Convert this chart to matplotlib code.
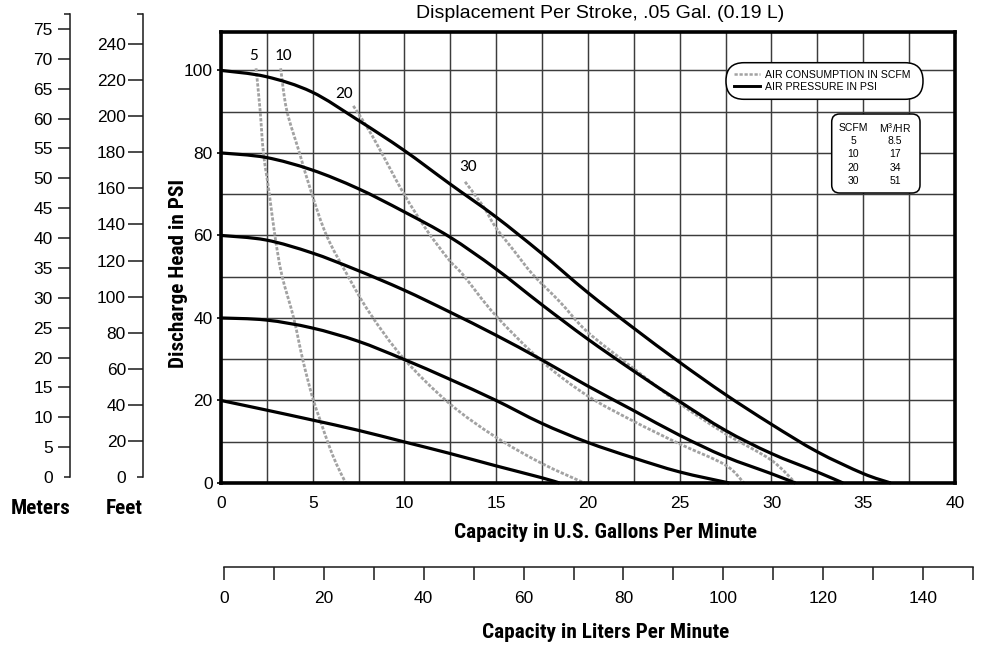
import numpy as np
import matplotlib
matplotlib.use("Agg")
import matplotlib.pyplot as plt
from matplotlib import font_manager
from matplotlib.patches import FancyBboxPatch, PathPatch
from matplotlib.path import Path
from matplotlib.transforms import Affine2D
from matplotlib.lines import Line2D
from matplotlib.ticker import FixedLocator, FixedFormatter

# ---------------- data ----------------
# Air pressure curves: capacity (US GPM) vs discharge head (PSI)
psi100_gpm = [0, 2.45, 4.94, 7.45, 9.95, 12.44, 14.95, 17.46, 19.95, 22.47, 24.98, 27.47, 29.97, 32.48, 34.99, 36.5]
psi100_head = [100, 98.5, 94.8, 88.0, 80.7, 72.6, 64.6, 55.7, 46.3, 37.6, 29.3, 21.5, 14.3, 7.6, 2.3, 0]

psi80_gpm = [0, 2.45, 4.94, 7.45, 9.95, 12.44, 14.95, 17.46, 19.95, 22.47, 24.98, 27.47, 29.97, 32.48, 33.9]
psi80_head = [80, 78.9, 75.9, 71.4, 65.8, 59.7, 52.0, 43.3, 35.0, 27.2, 19.8, 12.8, 7.2, 2.7, 0]

psi60_gpm = [0, 2.45, 4.94, 7.3, 9.95, 12.44, 14.95, 17.46, 19.95, 22.47, 24.98, 27.47, 29.97, 31.3]
psi60_head = [60, 58.9, 55.8, 51.8, 46.8, 41.5, 35.9, 29.9, 23.6, 17.6, 11.6, 6.4, 2.3, 0]

psi40_gpm = [0, 2.45, 4.94, 7.45, 9.95, 12.44, 14.95, 17.46, 19.95, 22.47, 24.98, 27.7]
psi40_head = [40, 39.5, 37.6, 34.4, 30.0, 25.2, 20.1, 14.5, 9.9, 6.1, 2.7, 0]

psi20_gpm = [0, 2.45, 4.94, 7.45, 9.95, 12.44, 14.95, 17.46, 18.45]
psi20_head = [20, 17.7, 15.3, 12.8, 10.0, 7.2, 4.2, 1.3, 0]

# Air consumption curves (SCFM)
scfm5_gpm = [1.91, 2.13, 2.31, 2.63, 2.94, 3.31, 3.96, 4.45, 4.97, 5.40, 5.85, 6.3, 6.8]
scfm5_head = [100.5, 90.4, 80.1, 70.2, 59.9, 50.5, 40.0, 30.0, 21.0, 15.3, 9.5, 4.5, 0]

scfm10_gpm = [3.25, 3.58, 4.27, 4.94, 5.76, 6.9, 8.12, 9.95, 12.44, 14.95, 17.46, 19.8]
scfm10_head = [100.5, 90.4, 80.1, 70.2, 59.9, 50.3, 41.1, 30.2, 19.3, 11.2, 4.8, 0]

scfm20_gpm = [7.21, 7.94, 8.67, 9.95, 11.21, 12.44, 13.2, 14.95, 17.46, 19.95, 22.47, 24.98, 27.47, 28.5]
scfm20_head = [91.4, 86.4, 80.7, 70.2, 61.3, 54.0, 50.4, 40.7, 29.6, 21.2, 15.0, 9.5, 4.4, 0]

scfm30_gpm = [13.30, 14.30, 14.95, 15.93, 17.0, 18.47, 19.95, 22.47, 24.98, 27.47, 29.97, 31.3]
scfm30_head = [73.0, 67.0, 62.1, 56.5, 50.5, 43.9, 36.7, 27.8, 19.3, 12.0, 5.6, 0]

scfm_labels = ["5", "10", "20", "30"]
scfm_label_gpm = [1.80, 3.40, 6.70, 13.48]
scfm_label_head = [103.6, 103.6, 94.2, 76.7]

# conversion table
table_scfm = ["5", "10", "20", "30"]
table_m3hr = ["8.5", "17", "34", "51"]

# axis ticks
gpm_ticks = [0, 5, 10, 15, 20, 25, 30, 35, 40]
psi_ticks = [0, 20, 40, 60, 80, 100]
lpm_ticks = [0, 20, 40, 60, 80, 100, 120, 140]
meter_ticks = [5, 10, 15, 20, 25, 30, 35, 40, 45, 50, 55, 60, 65, 70, 75]
feet_ticks = [20, 40, 60, 80, 100, 120, 140, 160, 180, 200, 220, 240]

# ---------------- fonts ----------------
names = {f.name for f in font_manager.fontManager.ttflist}
REG = "Liberation Sans" if "Liberation Sans" in names else "DejaVu Sans"
NARROW, NSZ = REG, 13.4
for cand in ("Liberation Sans Narrow", "Arial Narrow", "Roboto Condensed", "Open Sans Condensed"):
    if cand in names:
        NARROW, NSZ = cand, 15.3
        break
CAL = "Carlito" if "Carlito" in names else ("Open Sans" if "Open Sans" in names else REG)
plt.rcParams["font.family"] = [REG, "DejaVu Sans"]
plt.rcParams["mathtext.fontset"] = "custom"
plt.rcParams["mathtext.rm"] = REG
plt.rcParams["mathtext.it"] = REG

W, H = 987, 645
fig = plt.figure(figsize=(W / 100, H / 100), dpi=100)
fig.patch.set_facecolor("white")
# transform: reference-image pixel coordinates (y downwards) -> figure
T = Affine2D().scale(1 / W, -1 / H).translate(0, 1) + fig.transFigure

TICK_FS = 12.5

# ---------------- main axes ----------------
x0, x1, yb, yt = 221, 955, 483, 31.5
ax = fig.add_axes([x0 / W, 1 - yb / H, (x1 - x0) / W, (yb - yt) / H])
ax.set_xlim(0, 40)
ax.set_ylim(0, (yb - yt) / 4.126)
ax.set_xticks(gpm_ticks)
ax.set_xticks(np.arange(0, 40.01, 2.5), minor=True)
ax.set_yticks(psi_ticks)
ax.set_yticks(np.arange(0, 101, 10), minor=True)
ax.grid(True, which="both", color="#3c3c3c", lw=1.05, zorder=1)
ax.set_axisbelow(True)
ax.tick_params(axis="x", which="both", length=0, pad=9, labelsize=TICK_FS)
ax.tick_params(axis="y", which="major", length=3, width=1.2, pad=3, labelsize=TICK_FS)
ax.tick_params(axis="y", which="minor", length=0)
for s in ax.spines.values():
    s.set_linewidth(2.6)
    s.set_color("black")
    s.set_zorder(6)


def smooth_path(xs, ys):
    """Smooth curve through the read points (Catmull-Rom as cubic Bezier)."""
    p = np.column_stack([xs, ys]).astype(float)
    ext = np.vstack([p[0], p, p[-1]])
    verts = [p[0]]
    codes = [Path.MOVETO]
    for i in range(1, len(ext) - 2):
        a, b, c, d = ext[i - 1], ext[i], ext[i + 1], ext[i + 2]
        verts += [b + (c - a) / 6.0, c - (d - b) / 6.0, c]
        codes += [Path.CURVE4] * 3
    return Path(verts, codes)


solid = [(psi100_gpm, psi100_head), (psi80_gpm, psi80_head), (psi60_gpm, psi60_head),
         (psi40_gpm, psi40_head), (psi20_gpm, psi20_head)]
dashed = [(scfm5_gpm, scfm5_head), (scfm10_gpm, scfm10_head),
          (scfm20_gpm, scfm20_head), (scfm30_gpm, scfm30_head)]
DASH_C = "#a2a2a2"
DASH = (0, (1.2, 0.6))
for xs, ys in dashed:
    pp = PathPatch(smooth_path(xs, ys), fill=False, edgecolor=DASH_C, lw=2.0,
                   linestyle=DASH, zorder=3, clip_on=False)
    pp.set_capstyle("butt")
    ax.add_patch(pp)
for xs, ys in solid:
    pp = PathPatch(smooth_path(xs, ys), fill=False, edgecolor="black", lw=2.3,
                   zorder=4, clip_on=False)
    pp.set_capstyle("butt")
    ax.add_patch(pp)

for s, gx, gy in zip(scfm_labels, scfm_label_gpm, scfm_label_head):
    ax.text(gx, gy, s, fontsize=12.5, family=CAL, ha="center", va="center", zorder=5)

# legend box (pill)
pill = FancyBboxPatch((726, 62.7), 197, 36.6, boxstyle="round,pad=0,rounding_size=18",
                      transform=T, facecolor="white", edgecolor="black", lw=1.1,
                      zorder=7, clip_on=False)
ax.add_patch(pill)
handles = [Line2D([], [], color=DASH_C, lw=1.8, ls=(0, (1.3, 0.7)), dash_capstyle="butt"),
           Line2D([], [], color="black", lw=2.1)]
leg = ax.legend(handles, ["AIR CONSUMPTION IN SCFM", "AIR PRESSURE IN PSI"],
                loc="upper left", bbox_to_anchor=(734 / W, 1 - 69.5 / H),
                bbox_transform=fig.transFigure, frameon=False, borderpad=0,
                borderaxespad=0, fontsize=7.6, handlelength=2.5,
                handletextpad=0.45, labelspacing=0.2)
leg.set_zorder(8)

# conversion table box
tbl = FancyBboxPatch((831.7, 114), 88.3, 79, boxstyle="round,pad=0,rounding_size=8",
                     transform=T, facecolor="white", edgecolor="black", lw=1.1,
                     zorder=7, clip_on=False)
ax.add_patch(tbl)
col_x = [853, 895]
row_y = [128.3, 141, 154.3, 167.7, 181]
ax.text(col_x[0], row_y[0], "SCFM", transform=T, ha="center", va="center", fontsize=7.5, zorder=8)
ax.text(col_x[1], row_y[0] - 0.5, r"M$^3$/HR", transform=T, ha="center", va="center", fontsize=7.5, zorder=8)
for i, (a, b) in enumerate(zip(table_scfm, table_m3hr)):
    ax.text(col_x[0], row_y[i + 1], a, transform=T, ha="center", va="center", fontsize=7.5, zorder=8)
    ax.text(col_x[1], row_y[i + 1], b, transform=T, ha="center", va="center", fontsize=7.5, zorder=8)

# ---------------- meters / feet scales ----------------
def side_axis(xpix, zero_pix, top_pix, px_per_unit, ticks, major_len, major_pad, hook_len, hook_pad):
    a = fig.add_axes([xpix / W, 1 - zero_pix / H, 1e-4, (zero_pix - top_pix) / H])
    top = (zero_pix - top_pix) / px_per_unit
    a.set_ylim(0, top)
    a.patch.set_visible(False)
    for k in ("top", "right", "bottom"):
        a.spines[k].set_visible(False)
    a.spines["left"].set_linewidth(1.1)
    a.spines["left"].set_color("#1a1a1a")
    a.set_xticks([])
    a.yaxis.set_major_locator(FixedLocator(ticks))
    a.yaxis.set_major_formatter(FixedFormatter([str(t) for t in ticks]))
    a.yaxis.set_minor_locator(FixedLocator([0, top]))
    a.yaxis.set_minor_formatter(FixedFormatter(["0", ""]))
    a.tick_params(axis="y", which="major", length=major_len, width=1.1, pad=major_pad,
                  labelsize=TICK_FS, color="#1a1a1a")
    a.tick_params(axis="y", which="minor", length=hook_len, width=1.1, pad=hook_pad,
                  labelsize=TICK_FS, color="#1a1a1a")
    return a

side_axis(70, 477, 13.6, 5.973, meter_ticks, 8.6, 3.8, 4.3, 8.1)
side_axis(142.7, 477, 13.6, 1.804, feet_ticks, 10.6, 1.5, 4.1, 7.9)

# ---------------- liters scale ----------------
axl = fig.add_axes([224 / W, 1 - 567.3 / H, (973 - 224) / W, 1e-4])
axl.set_xlim(0, 150)
axl.patch.set_visible(False)
for k in ("top", "right", "left"):
    axl.spines[k].set_visible(False)
axl.spines["bottom"].set_linewidth(1.1)
axl.spines["bottom"].set_color("#1a1a1a")
axl.set_yticks([])
axl.set_xticks(lpm_ticks)
axl.set_xticks(np.arange(10, 151, 20), minor=True)
axl.tick_params(axis="x", which="both", length=9.4, width=1.1, pad=8,
                labelsize=TICK_FS, color="#1a1a1a")

# ---------------- texts ----------------
def ftext(x, y, s, **kw):
    fig.text(x / W, 1 - y / H, s, ha="center", va="center", **kw)

ftext(600.5, 13, "Displacement Per Stroke, .05 Gal. (0.19 L)", fontsize=14)
ftext(178, 273, "Discharge Head in PSI", rotation=90, fontsize=NSZ, fontweight="bold", family=NARROW)
ftext(606, 532, "Capacity in U.S. Gallons Per Minute", fontsize=NSZ, fontweight="bold", family=NARROW)
ftext(606, 632, "Capacity in Liters Per Minute", fontsize=NSZ, fontweight="bold", family=NARROW)
ftext(41, 508, "Meters", fontsize=NSZ, fontweight="bold", family=NARROW)
ftext(124, 508, "Feet", fontsize=NSZ, fontweight="bold", family=NARROW)

fig.savefig("out.png", dpi=100)
